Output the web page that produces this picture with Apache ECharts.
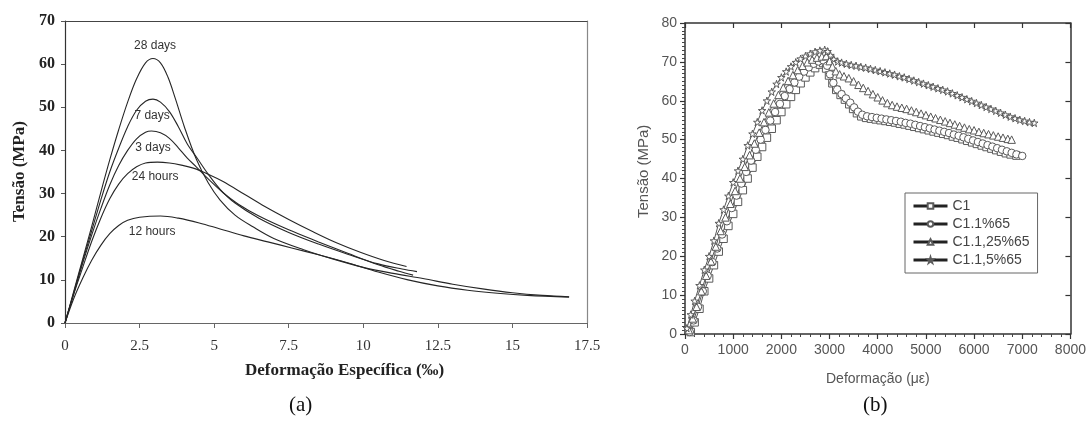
<!DOCTYPE html>
<html>
<head>
<meta charset="utf-8">
<script src="https://cdn.jsdelivr.net/npm/echarts@6/dist/echarts.min.js"></script>
<style>
html, body { margin: 0; padding: 0; background: #fff; }
#chart { width: 1089px; height: 426px; }
</style>
</head>
<body>
<div id="chart"></div>
<script>
// (a) tensão x deformação específica (‰) por idade
var h12 = [[0,0],[0.3,5.8],[0.6,10.5],[0.9,14.6],[1.2,18],[1.5,20.7],[1.8,22.6],[2.1,23.8],[2.5,24.5],[3.2,24.8],[3.8,24.3],[4.5,23.2],[5.2,21.8],[6,20.2],[6.8,18.8],[7.6,17.4],[8.5,15.8],[9.5,13.9],[10.5,11.8],[11.5,10],[12.5,8.6],[13.5,7.6],[14.5,6.9],[15.5,6.4],[16.9,6.0]];
var h24 = [[0,0],[0.3,6.8],[0.6,13],[0.9,19],[1.2,24.3],[1.5,28.8],[1.8,32.2],[2.1,34.6],[2.4,36.2],[2.7,37.1],[3.1,37.3],[3.5,37.1],[3.9,36.6],[4.3,35.9],[4.8,34.5],[5.3,32.8],[6,29.9],[6.7,27],[7.5,24],[8.3,21.2],[9.1,18.6],[9.9,16.4],[10.7,14.5],[11.45,13.1]];
var d3 = [[0,0],[0.3,7],[0.6,14],[0.9,20.5],[1.2,26.5],[1.5,32],[1.8,36.5],[2.1,40],[2.4,42.7],[2.7,44.2],[2.9,44.5],[3.2,44.1],[3.5,42.8],[3.8,40.6],[4.1,38.2],[4.4,36.2],[4.8,33.4],[5.3,30.2],[5.8,27.6],[6.5,24.8],[7.5,21.6],[8.5,18.8],[9.5,16.1],[10.5,13.5],[11.2,12],[11.67,11.1]];
var d7 = [[0,0],[0.3,7.2],[0.6,14.5],[0.9,21.5],[1.2,28.5],[1.5,35],[1.8,40.5],[2.1,45.5],[2.4,49.3],[2.7,51.4],[2.95,51.9],[3.2,51.2],[3.5,49],[3.8,45.5],[4.1,41.5],[4.45,38],[4.8,34.5],[5.2,31],[5.7,27.8],[6.5,24.3],[7.5,21],[8.5,18.3],[9.5,15.9],[10.5,13.7],[11.3,12.5],[11.8,11.9]];
var d28 = [[0,0],[0.3,7.5],[0.6,15],[0.9,22.5],[1.2,30.3],[1.5,37.8],[1.8,44.8],[2.1,51.2],[2.4,56.6],[2.7,60.3],[2.95,61.3],[3.2,60.3],[3.45,57],[3.7,52],[4.0,45.5],[4.4,38],[4.8,32.5],[5.2,28.5],[5.7,25],[6.3,22.3],[7,19.6],[8,17],[9,14.8],[10,12.9],[11,11.5],[12,10.3],[13,9],[14,7.9],[15,7],[16,6.4],[16.9,6.1]];
var curvesA = [h12, h24, d3, d7, d28];
var labelsA = ['12 hours', '24 hours', '3 days', '7 days', '28 days'];

// (b) tensão x deformação (με)
var c1 = [[120,0.5],[200,3],[300,6.5],[400,11],[500,14.3],[600,17.7],[700,21.2],[800,24.5],[900,27.8],[1000,30.9],[1100,34],[1200,37],[1300,40],[1400,42.8],[1500,45.6],[1600,48.1],[1700,50.5],[1800,52.8],[1900,55],[2000,57.1],[2100,59.1],[2200,61],[2300,62.8],[2400,64.5],[2500,66],[2600,67.3],[2700,68.4],[2800,69.3],[2870,69.7],[2930,68.3],[2990,66.5],[3060,64.5],[3140,62.8],[3230,61.5],[3320,60.3],[3410,59.1],[3490,57.9],[3570,56.8],[3660,56],[3760,55.6],[3860,55.4],[3960,55.2],[4060,55],[4160,54.8],[4260,54.6],[4360,54.4],[4460,54.1],[4560,53.9],[4660,53.6],[4760,53.3],[4860,53],[4960,52.7],[5060,52.4],[5160,52.1],[5260,51.8],[5360,51.5],[5460,51.2],[5560,50.8],[5660,50.5],[5760,50.1],[5860,49.7],[5960,49.3],[6060,48.9],[6160,48.5],[6260,48.1],[6360,47.7],[6460,47.3],[6560,46.9],[6660,46.5],[6760,46.2],[6880,45.9]];
var c1_1 = [[100,0.5],[180,3.5],[270,7],[370,11],[470,15],[570,18.5],[670,22],[770,25.6],[870,29],[970,32.4],[1070,35.6],[1170,38.7],[1270,41.7],[1370,44.6],[1470,47.4],[1570,50],[1670,52.5],[1770,54.9],[1870,57.1],[1970,59.2],[2070,61.2],[2170,63],[2270,64.7],[2370,66.2],[2470,67.5],[2570,68.6],[2670,69.5],[2770,70.1],[2870,70.4],[2950,69],[3010,66.8],[3080,64.6],[3160,62.9],[3250,61.7],[3340,60.6],[3430,59.5],[3510,58.3],[3590,57.2],[3680,56.4],[3780,56],[3880,55.8],[3980,55.6],[4080,55.4],[4180,55.2],[4280,55],[4380,54.8],[4480,54.6],[4580,54.3],[4680,54.1],[4780,53.8],[4880,53.5],[4980,53.2],[5080,52.9],[5180,52.6],[5280,52.3],[5380,52],[5480,51.7],[5580,51.3],[5680,51],[5780,50.6],[5880,50.2],[5980,49.8],[6080,49.4],[6180,49],[6280,48.6],[6380,48.2],[6480,47.8],[6580,47.4],[6680,47],[6780,46.6],[6880,46.2],[7000,45.8]];
var c1_125 = [[80,1],[160,4],[240,7],[340,11],[440,15],[540,18.7],[640,22.5],[740,26.5],[840,30],[940,33.5],[1040,36.8],[1140,40],[1240,43],[1340,46],[1440,49],[1540,51.8],[1640,54.5],[1740,57],[1840,59.3],[1940,61.5],[2040,63.4],[2140,65.1],[2240,66.6],[2340,67.9],[2440,69],[2540,69.9],[2640,70.6],[2740,71.1],[2840,71.4],[2930,71.5],[3000,70.2],[3060,68.8],[3130,67.6],[3210,66.8],[3300,66.3],[3400,65.8],[3500,65],[3600,64.1],[3700,63.3],[3800,62.5],[3900,61.7],[4000,60.9],[4100,60.1],[4200,59.4],[4300,58.9],[4400,58.5],[4500,58.2],[4600,57.9],[4700,57.5],[4800,57.1],[4900,56.7],[5000,56.3],[5100,55.9],[5200,55.5],[5300,55.1],[5400,54.7],[5500,54.3],[5600,53.9],[5700,53.5],[5800,53.1],[5900,52.7],[6000,52.4],[6100,52],[6200,51.7],[6300,51.4],[6400,51.1],[6500,50.8],[6600,50.5],[6700,50.2],[6780,50]];
var c1_15 = [[40,1.5],[120,5],[200,8.5],[300,12.5],[400,16.5],[500,20],[600,24],[700,28.5],[800,32],[900,35.5],[1000,39],[1100,42],[1200,45],[1300,48.5],[1400,51.5],[1500,54.5],[1600,57.5],[1700,60],[1800,62.3],[1900,64.3],[2000,66],[2100,67.5],[2200,68.8],[2300,69.9],[2400,70.8],[2500,71.5],[2600,72.1],[2700,72.6],[2800,72.9],[2900,73.1],[2960,72.7],[3020,71.7],[3090,70.7],[3170,70.1],[3250,69.8],[3350,69.5],[3450,69.2],[3550,69],[3650,68.7],[3750,68.5],[3850,68.2],[3950,67.9],[4050,67.6],[4150,67.3],[4250,67],[4350,66.7],[4450,66.3],[4550,66],[4650,65.6],[4750,65.2],[4850,64.8],[4950,64.4],[5050,64],[5150,63.6],[5250,63.2],[5350,62.8],[5450,62.4],[5550,61.9],[5650,61.4],[5750,60.9],[5850,60.4],[5950,59.9],[6050,59.4],[6150,58.9],[6250,58.4],[6350,57.9],[6450,57.4],[6550,56.9],[6650,56.4],[6750,55.9],[6850,55.5],[6950,55.1],[7050,54.8],[7150,54.5],[7250,54.3]];
var curvesB = [c1, c1_1, c1_125, c1_15];
var namesB = ['C1', 'C1.1%65', 'C1.1,25%65', 'C1.1,5%65'];

var starPath = 'path://M50,0 L61,35 L98,35 L68,57 L79,91 L50,70 L21,91 L32,57 L2,35 L39,35 Z';
var symbolsB = ['rect', 'circle', 'triangle', starPath];

// onde ficam os rótulos das idades (coordenadas do gráfico a)
var labelPosA = [[2.92, 21.1], [3.02, 33.8], [2.95, 40.6], [2.92, 48], [3.02, 64.2]];

var serif = '"Liberation Serif", "Times New Roman", serif';
var sans = '"Liberation Sans", Arial, sans-serif';

var chart = echarts.init(document.getElementById('chart'));

var series = [];
curvesA.forEach(function (d, i) {
    series.push({
        type: 'line', xAxisIndex: 0, yAxisIndex: 0,
        data: d, smooth: 0.35, showSymbol: false, silent: true,
        lineStyle: { color: '#262626', width: 1.1 },
        markPoint: {
            symbol: 'circle', symbolSize: 0,
            label: { show: true, formatter: '{b}', color: '#333', fontSize: 12, fontFamily: sans },
            data: [{ name: labelsA[i], coord: labelPosA[i] }]
        }
    });
});
curvesB.forEach(function (d, i) {
    series.push({
        name: namesB[i],
        type: 'line', xAxisIndex: 2, yAxisIndex: 2,
        data: d, symbol: symbolsB[i], symbolSize: 7.5, showAllSymbol: true,
        lineStyle: { color: '#555', width: 1 },
        itemStyle: { color: '#fff', borderColor: '#5a5a5a', borderWidth: 1 }
    });
});

var option = {
    animation: false,
    grid: [
        { left: 65, top: 21, width: 522, height: 302 },
        { left: 685, top: 23, width: 386, height: 311 }
    ],
    xAxis: [
        {
            gridIndex: 0, type: 'value', min: 0, max: 17.5, interval: 2.5,
            axisLine: { lineStyle: { color: '#666', width: 1 } },
            axisTick: { show: true, length: 5, lineStyle: { color: '#666' } },
            axisLabel: { color: '#333', fontFamily: serif, fontSize: 15, margin: 16 },
            splitLine: { show: false }
        },
        {
            gridIndex: 0, type: 'value', position: 'top', min: 0, max: 17.5,
            axisLine: { onZero: false, lineStyle: { color: '#444', width: 1.2 } },
            axisTick: { show: false }, axisLabel: { show: false }, splitLine: { show: false }
        },
        {
            gridIndex: 1, type: 'value', min: 0, max: 8000, interval: 1000,
            axisLine: { lineStyle: { color: '#333', width: 1.5 } },
            axisTick: { show: true, length: 5, lineStyle: { color: '#333', width: 1.2 } },
            minorTick: { show: true, splitNumber: 5, length: 3, lineStyle: { color: '#444' } },
            axisLabel: {
                color: '#555', fontFamily: sans, fontSize: 14, margin: 9,
                formatter: function (v) { return String(v); }
            },
            splitLine: { show: false }
        },
        {
            gridIndex: 1, type: 'value', position: 'top', min: 0, max: 8000, interval: 1000,
            axisLine: { onZero: false, lineStyle: { color: '#333', width: 1.5 } },
            axisTick: { show: true, inside: true, length: 5, lineStyle: { color: '#333', width: 1.2 } },
            axisLabel: { show: false }, splitLine: { show: false }
        }
    ],
    yAxis: [
        {
            gridIndex: 0, type: 'value', min: 0, max: 70, interval: 10,
            axisLine: { show: true, lineStyle: { color: '#333', width: 1.2 } },
            axisTick: { show: true, length: 4, lineStyle: { color: '#555' } },
            axisLabel: { color: '#222', fontFamily: serif, fontWeight: 'bold', fontSize: 16, margin: 10 },
            splitLine: { show: false }
        },
        {
            gridIndex: 0, type: 'value', position: 'right', min: 0, max: 70,
            axisLine: { show: true, onZero: false, lineStyle: { color: '#888', width: 1.2 } },
            axisTick: { show: false }, axisLabel: { show: false }, splitLine: { show: false }
        },
        {
            gridIndex: 1, type: 'value', min: 0, max: 80, interval: 10,
            axisLine: { show: true, lineStyle: { color: '#333', width: 1.5 } },
            axisTick: { show: true, length: 5, lineStyle: { color: '#333', width: 1.2 } },
            minorTick: { show: true, splitNumber: 10, length: 3, lineStyle: { color: '#444' } },
            axisLabel: { color: '#555', fontFamily: sans, fontSize: 14, margin: 8 },
            splitLine: { show: false }
        },
        {
            gridIndex: 1, type: 'value', position: 'right', min: 0, max: 80, interval: 10,
            axisLine: { show: true, onZero: false, lineStyle: { color: '#333', width: 1.5 } },
            axisTick: { show: true, inside: true, length: 5, lineStyle: { color: '#333', width: 1.2 } },
            axisLabel: { show: false }, splitLine: { show: false }
        }
    ],
    legend: {
        data: namesB, orient: 'vertical', left: 905, top: 193,
        itemWidth: 34, itemHeight: 7, itemGap: 4,
        padding: [6, 8, 6, 7],
        borderColor: '#666', borderWidth: 1,
        lineStyle: { color: '#222', width: 3 },
        textStyle: { color: '#444', fontFamily: sans, fontSize: 14 }
    },
    graphic: [
        { type: 'text', left: 245, top: 362, style: { text: 'Deformação Específica (‰)', font: 'bold 17px ' + serif, fill: '#222' } },
        { type: 'text', x: 11, y: 222, rotation: Math.PI / 2, style: { text: 'Tensão (MPa)', font: 'bold 17px ' + serif, fill: '#222' } },
        { type: 'text', left: 289, top: 395, style: { text: '(a)', font: '21px ' + serif, fill: '#111' } },
        { type: 'text', left: 826, top: 372, style: { text: 'Deformação (με)', font: '14px ' + sans, fill: '#555' } },
        { type: 'text', x: 636, y: 218, rotation: Math.PI / 2, style: { text: 'Tensão (MPa)', font: '15px ' + sans, fill: '#555' } },
        { type: 'text', left: 863, top: 395, style: { text: '(b)', font: '21px ' + serif, fill: '#111' } }
    ],
    series: series
};
chart.setOption(option);
</script>
</body>
</html>
